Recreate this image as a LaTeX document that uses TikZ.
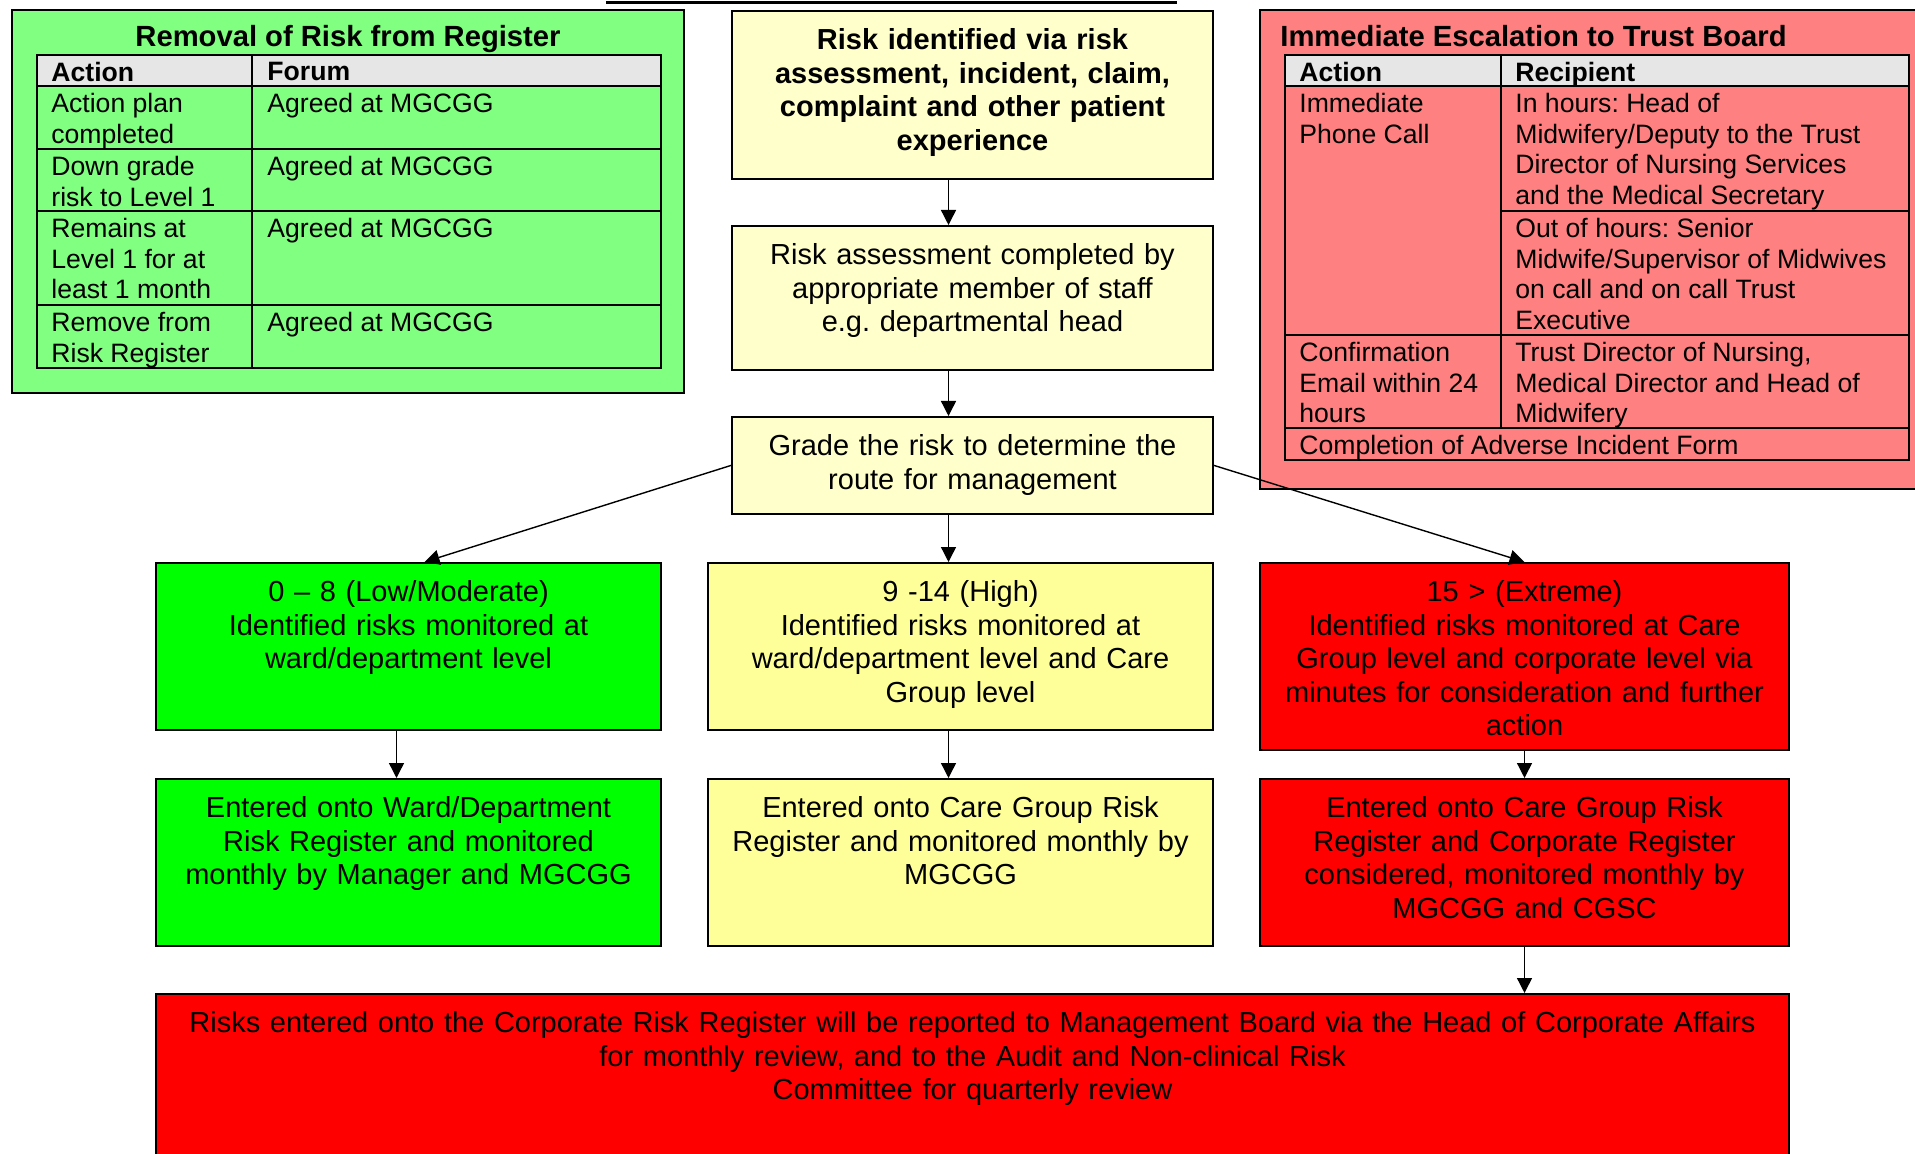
\documentclass[tikz,border=0pt]{standalone}
\usepackage{fontspec}
\setmainfont{Liberation Sans}
\usepackage{tikz}
\usetikzlibrary{arrows.meta, positioning}
\usepackage{tkz-euclide}
\definecolor{panelgreen}{HTML}{80FF80}
\definecolor{panelred}{HTML}{FF8080}
\definecolor{paleyellow}{HTML}{FFFFCC}
\definecolor{lowgreen}{HTML}{00FF00}
\definecolor{highyellow}{HTML}{FFFF99}
\definecolor{extremered}{HTML}{FF0000}
\definecolor{headgray}{HTML}{E6E6E6}
\tikzset{
  flowbox/.style={draw, line width=0.9pt, inner sep=0pt, anchor=north},
  flowtext/.style={anchor=north, align=center, inner sep=0pt, font=\fontsize{14.5}{16.8}\selectfont},
  celltext/.style={anchor=north west, align=left, inner sep=0pt, font=\fontsize{13.3}{15.3}\selectfont},
  cellhead/.style={celltext, font=\fontsize{13.3}{15.3}\selectfont\bfseries},
  paneltitle/.style={anchor=base, inner sep=0pt, font=\fontsize{14.6}{16.8}\selectfont\bfseries},
  flowarrow/.style={-{Triangle[length=7.5pt,width=7.5pt]}, line width=0.7pt}
}
\frenchspacing
\begin{document}
\begin{tikzpicture}[x=0.5pt, y=-0.5pt]
                \useasboundingbox (0,0) rectangle (1915,1154);
                \tkzDefPoints{972.5/10/Ri, 972.5/225/As, 972.5/416/Gr, 408.5/562/Lo, 960.5/562/Hi, 1524.5/562/Ex,
                  408.5/778/LoR, 960.5/778/HiR, 1524.5/778/ExR, 972.5/993/Co}
                \draw[line width=1.5pt] (606,3) -- (1177,3);
                \draw[line width=1pt, fill=panelgreen] (12,10) rectangle (684,393);
                \node[paneltitle] (greentitle) at (348,47) {Removal of Risk from Register};
                \fill[headgray] (37,55) rectangle (661,86);
                \draw[line width=0.9pt] (37,55) rectangle (661,368) (252,55) -- (252,368);
                \foreach \y in {86,149,211,305} \draw[line width=0.9pt] (37,\y) -- (661,\y);
                \node[cellhead] (gh1) at (51,62) {Action};
                \node[cellhead] (gh2) at (267,62) {Forum};
                \node[celltext] (ga1) at (51,93) {Action plan\\completed};
                \node[celltext] (gf1) at (267,93) {Agreed at MGCGG};
                \node[celltext] (ga2) at (51,156) {Down grade\\risk to Level 1};
                \node[celltext] (gf2) at (267,156) {Agreed at MGCGG};
                \node[celltext] (ga3) at (51,218) {Remains at\\Level 1 for at\\least 1 month};
                \node[celltext] (gf3) at (267,218) {Agreed at MGCGG};
                \node[celltext] (ga4) at (51,312) {Remove from\\Risk Register};
                \node[celltext] (gf4) at (267,312) {Agreed at MGCGG};
                \draw[line width=1pt, fill=panelred] (1260,10) rectangle (1930,489);
                \node[paneltitle, anchor=base west] (redtitle) at (1280,47) {Immediate Escalation to Trust Board};
                \fill[headgray] (1285,55) rectangle (1909,86);
                \draw[line width=0.9pt] (1285,55) rectangle (1909,460) (1501,55) -- (1501,428) (1501,211) -- (1909,211);
                \foreach \y in {86,335,428} \draw[line width=0.9pt] (1285,\y) -- (1909,\y);
                \node[cellhead] (rh1) at (1299,62) {Action};
                \node[cellhead] (rh2) at (1515,62) {Recipient};
                \node[celltext] (ra1) at (1299,93) {Immediate\\Phone Call};
                \node[celltext] (rr1) at (1515,93) {In hours: Head of\\Midwifery/Deputy to the Trust\\Director of Nursing Services\\and the Medical Secretary};
                \node[celltext] (rr2) at (1515,218) {Out of hours: Senior\\Midwife/Supervisor of Midwives\\on call and on call Trust\\Executive};
                \node[celltext] (ra3) at (1299,342) {Confirmation\\Email within 24\\hours};
                \node[celltext] (rr3) at (1515,342) {Trust Director of Nursing,\\Medical Director and Head of\\Midwifery};
                \node[celltext] (ra4) at (1299,435) {Completion of Adverse Incident Form};
                \node[flowbox, fill=paleyellow, minimum width=240.5pt, minimum height=84pt] (risk) at (Ri) {};
                \node[flowtext, text width=232pt, font=\fontsize{14.5}{16.8}\selectfont\bfseries, below=9pt of risk.north] (risktxt) {Risk identified via risk\\assessment, incident, claim,\\complaint and other patient\\experience};
                \node[flowbox, fill=paleyellow, minimum width=240.5pt, minimum height=72pt] (assess) at (As) {};
                \node[flowtext, text width=232pt, below=9pt of assess.north] (assesstxt) {Risk assessment completed by\\appropriate member of staff\\e.g. departmental head};
                \node[flowbox, fill=paleyellow, minimum width=240.5pt, minimum height=48.5pt] (grade) at (Gr) {};
                \node[flowtext, text width=232pt, below=9pt of grade.north] (gradetxt) {Grade the risk to determine the\\route for management};
                \node[flowbox, fill=lowgreen, minimum width=252.5pt, minimum height=83.5pt] (low) at (Lo) {};
                \node[flowtext, text width=245pt, below=9pt of low.north] (lowtxt) {0 -- 8 (Low/Moderate)\\Identified risks monitored at\\ward/department level};
                \node[flowbox, fill=highyellow, minimum width=252.5pt, minimum height=83.5pt] (high) at (Hi) {};
                \node[flowtext, text width=245pt, below=9pt of high.north] (hightxt) {9 -14 (High)\\Identified risks monitored at\\ward/department level and Care\\Group level};
                \node[flowbox, fill=extremered, minimum width=264.5pt, minimum height=93.5pt] (extreme) at (Ex) {};
                \node[flowtext, text width=258pt, below=9pt of extreme.north] (extremetxt) {15 > (Extreme)\\Identified risks monitored at Care\\Group level and corporate level via\\minutes for consideration and further\\action};
                \node[flowbox, fill=lowgreen, minimum width=252.5pt, minimum height=83.5pt] (lowreg) at (LoR) {};
                \node[flowtext, text width=245pt, below=9pt of lowreg.north] (lowregtxt) {Entered onto Ward/Department\\Risk Register and monitored\\monthly by Manager and MGCGG};
                \node[flowbox, fill=highyellow, minimum width=252.5pt, minimum height=83.5pt] (highreg) at (HiR) {};
                \node[flowtext, text width=245pt, below=9pt of highreg.north] (highregtxt) {Entered onto Care Group Risk\\Register and monitored monthly by\\MGCGG};
                \node[flowbox, fill=extremered, minimum width=264.5pt, minimum height=83.5pt] (extremereg) at (ExR) {};
                \node[flowtext, text width=258pt, below=9pt of extremereg.north] (extremeregtxt) {Entered onto Care Group Risk\\Register and Corporate Register\\considered, monitored monthly by\\MGCGG and CGSC};
                \node[flowbox, fill=extremered, minimum width=816.5pt, minimum height=92pt] (corp) at (Co) {};
                \node[flowtext, text width=810pt, below=9pt of corp.north] (corptxt) {Risks entered onto the Corporate Risk Register will be reported to Management Board via the Head of Corporate Affairs\\for monthly review, and to the Audit and Non-clinical Risk\\Committee for quarterly review};
                \draw[flowarrow] ([xshift=-12pt]risk.south) -- ([xshift=-12pt]assess.north);
                \draw[flowarrow] ([xshift=-12pt]assess.south) -- ([xshift=-12pt]grade.north);
                \draw[flowarrow] (grade.west) -- ([xshift=8pt]low.north);
                \draw[flowarrow] ([xshift=-12pt]grade.south) -- ([xshift=-6pt]high.north);
                \draw[flowarrow] (grade.east) -- (extreme.north);
                \draw[flowarrow] ([xshift=-6pt]low.south) -- ([xshift=-6pt]lowreg.north);
                \draw[flowarrow] ([xshift=-6pt]high.south) -- ([xshift=-6pt]highreg.north);
                \draw[flowarrow] (extreme.south) -- (extremereg.north);
                \draw[flowarrow] (extremereg.south) -- (extremereg.south |- corp.north);
            \end{tikzpicture}
\end{document}
